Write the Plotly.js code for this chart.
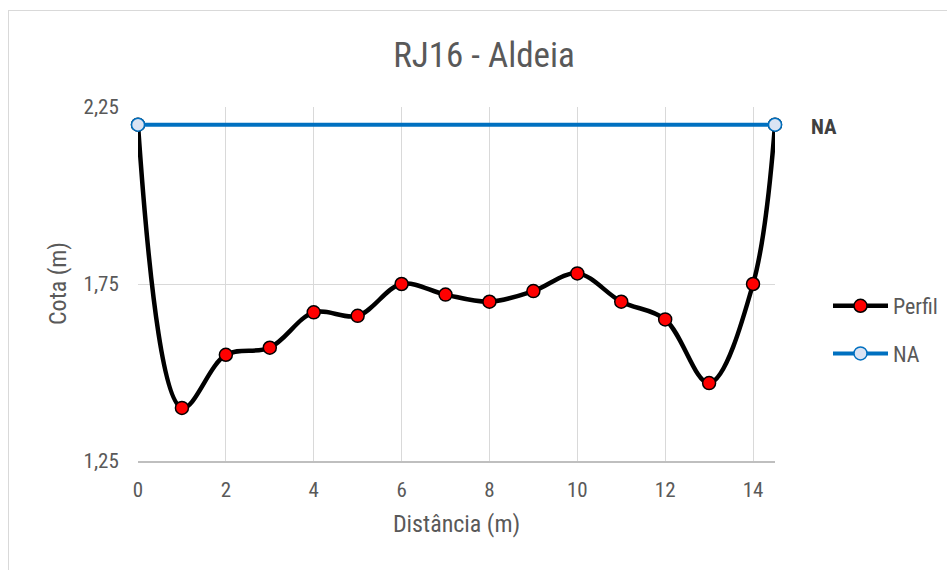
<!DOCTYPE html>
<html>
<head>
<meta charset="utf-8">
<script src="https://cdn.plot.ly/plotly-3.0.1.min.js"></script>
<style>
  body { margin: 0; background: #fff; }
  #chart { width: 947px; height: 570px; }
  #frame { position: absolute; left: 8px; top: 10px; width: 1000px; height: 600px;
           border: 1px solid #d9d9d9; pointer-events: none; }
</style>
</head>
<body>
<div id="frame"></div>
<div id="chart"></div>
<script>
// Data
const perfilX = [0, 1, 2, 3, 4, 5, 6, 7, 8, 9, 10, 11, 12, 13, 14, 14.5];
const perfilY = [2.20, 1.40, 1.55, 1.57, 1.67, 1.66, 1.75, 1.72, 1.70, 1.73, 1.78, 1.70, 1.65, 1.47, 1.75, 2.20];
const naX = [0, 14.5];
const naY = [2.20, 2.20];
const seriesNames = ['Perfil', 'NA'];
const yTicks = [1.25, 1.75, 2.25];
const xTicks = [0, 2, 4, 6, 8, 10, 12, 14];

const narrow = '"Liberation Sans Narrow", "Roboto Condensed", "Liberation Sans", Arial, sans-serif';
const grey = '#595959';

const traces = [
  {
    x: perfilX, y: perfilY, name: seriesNames[0], type: 'scatter', mode: 'lines+markers',
    legendgroup: 'g1',
    line: { color: '#000000', width: 4.5, shape: 'spline', smoothing: 1 },
    marker: { color: '#ff0000', size: 13, line: { color: '#000000', width: 1.5 } },
    cliponaxis: false
  },
  {
    x: naX, y: naY, name: seriesNames[1], type: 'scatter', mode: 'lines+markers',
    legendgroup: 'g2',
    line: { color: '#0070c0', width: 4 },
    marker: { color: '#dae3f3', size: 13, line: { color: '#0070c0', width: 1.5 } },
    cliponaxis: false
  }
];

const layout = {
  width: 947, height: 570,
  margin: { l: 138, r: 172, t: 107, b: 109 },
  paper_bgcolor: 'rgba(0,0,0,0)',
  plot_bgcolor: '#ffffff',
  separators: ',.',
  title: {
    text: 'RJ16 - Aldeia', x: 484 / 947, xref: 'container', xanchor: 'center',
    y: 1 - 55 / 570, yref: 'container', yanchor: 'middle',
    font: { family: narrow, size: 35, color: grey }
  },
  xaxis: {
    range: [0, 14.5], tickvals: xTicks, ticktext: xTicks.map(String),
    showgrid: true, gridcolor: '#d9d9d9', gridwidth: 1,
    zeroline: false, showline: true, linecolor: '#bfbfbf', linewidth: 2,
    ticks: 'outside', ticklen: 9, tickcolor: 'rgba(0,0,0,0)',
    tickfont: { family: narrow, size: 21, color: grey },
    automargin: true,
    title: { text: 'Distância (m)', standoff: 14, font: { family: narrow, size: 24, color: grey } }
  },
  yaxis: {
    range: [1.25, 2.25], tickvals: yTicks, tickformat: '.2f',
    showgrid: true, gridcolor: '#d9d9d9', gridwidth: 1,
    zeroline: false, showline: false,
    ticks: 'outside', ticklen: 14, tickcolor: 'rgba(0,0,0,0)',
    tickfont: { family: narrow, size: 21, color: grey }
  },
  legend: {
    x: 828 / 947, xref: 'container', y: 1 - 285 / 570, yref: 'container',
    xanchor: 'left', yanchor: 'top',
    itemwidth: 55, traceorder: 'grouped', tracegroupgap: 16,
    font: { family: narrow, size: 22, color: grey },
    bgcolor: 'rgba(0,0,0,0)'
  },
  annotations: [
    {
      x: 14.5, y: naY[1], xref: 'x', yref: 'y', text: '<b>NA</b>', showarrow: false,
      xanchor: 'left', xshift: 34, yshift: -2,
      font: { family: narrow, size: 21, color: '#404040' }
    },
    {
      x: (58 - 138) / 637, xref: 'paper', y: 0.5, yref: 'paper',
      text: 'Cota (m)', textangle: -90, showarrow: false,
      xanchor: 'center', yanchor: 'middle',
      font: { family: narrow, size: 24, color: grey }
    }
  ]
};

Plotly.newPlot('chart', traces, layout, { displayModeBar: false, staticPlot: true });
</script>
</body>
</html>
